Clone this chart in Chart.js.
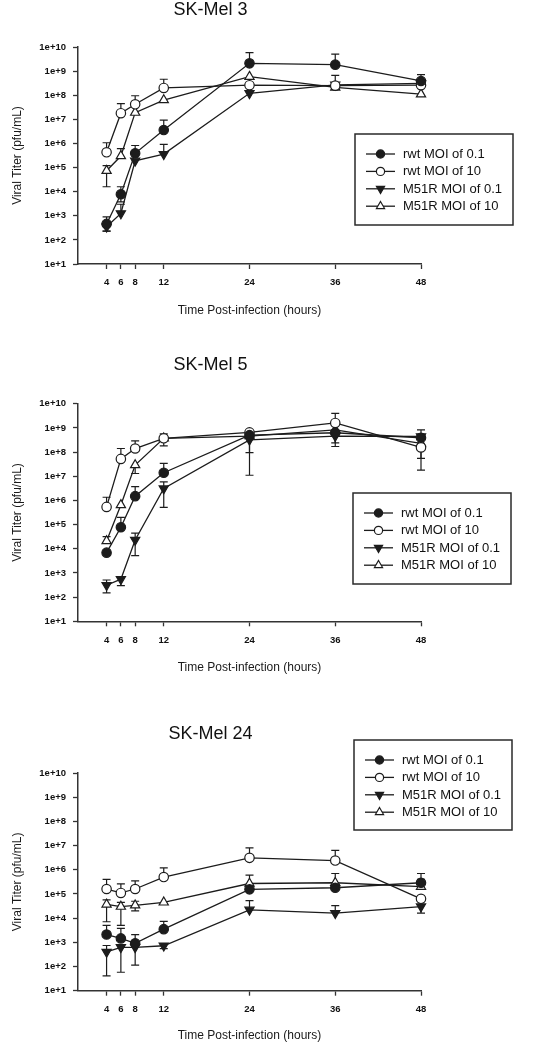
<!DOCTYPE html>
<html>
<head>
<meta charset="utf-8">
<script src="https://cdn.jsdelivr.net/npm/chart.js@4/dist/chart.umd.min.js"></script>
<style>
  html, body { margin: 0; padding: 0; background: #fff; }
  body { width: 541px; height: 1050px; position: relative; overflow: hidden; }
  canvas { position: absolute; left: 0; }
</style>
</head>
<body>
<canvas id="c1" width="541" height="330" style="top:0px"></canvas>
<canvas id="c2" width="541" height="360" style="top:330px"></canvas>
<canvas id="c3" width="541" height="360" style="top:690px"></canvas>
<script>
// ---------- data ----------
const hours = [4, 6, 8, 12, 24, 36, 48];
const xTickLabels = ['4', '6', '8', '12', '24', '36', '48'];
const yTickExponents = [1, 2, 3, 4, 5, 6, 7, 8, 9, 10];
const seriesNames = ['rwt MOI of 0.1', 'rwt MOI of 10', 'M51R MOI of 0.1', 'M51R MOI of 10'];
const panelTitles = ['SK-Mel 3', 'SK-Mel 5', 'SK-Mel 24'];
const xAxisTitle = 'Time Post-infection (hours)';
const yAxisTitle = 'Viral Titer (pfu/mL)';

// SK-Mel 3
const mel3Rwt01   = [460, 7.8e3, 3.9e5, 3.6e6, 2.1e9, 1.85e9, 3.9e8];
const mel3Rwt01Hi = [900, 1.6e4, 8.2e5, 9.3e6, 5.8e9, 5.1e9, 7.1e8];
const mel3Rwt01Lo = [230, 3.8e3, 3.9e5, 3.6e6, 2.1e9, 1.85e9, 3.9e8];
const mel3Rwt10   = [4.3e5, 1.8e7, 4.2e7, 2.0e8, 2.6e8, 2.5e8, 2.6e8];
const mel3Rwt10Hi = [1.07e6, 4.5e7, 9.5e7, 4.6e8, 2.6e8, 2.5e8, 2.6e8];
const mel3Rwt10Lo = [4.3e5, 1.8e7, 4.2e7, 2.0e8, 2.6e8, 2.5e8, 2.6e8];
const mel3M01     = [350, 1.25e3, 1.9e5, 3.6e5, 1.2e8, 2.7e8, 3.1e8];
const mel3M01Hi   = [350, 3.0e3, 1.9e5, 9.2e5, 1.2e8, 2.7e8, 3.1e8];
const mel3M01Lo   = [230, 1.25e3, 1.9e5, 3.6e5, 1.2e8, 2.7e8, 3.1e8];
const mel3M10     = [7.4e4, 3.0e5, 1.9e7, 6.3e7, 5.9e8, 2.1e8, 1.1e8];
const mel3M10Hi   = [1.2e5, 6.1e5, 1.9e7, 6.3e7, 5.9e8, 6.6e8, 1.1e8];
const mel3M10Lo   = [1.6e4, 3.0e5, 1.9e7, 6.3e7, 5.9e8, 2.1e8, 1.1e8];

// SK-Mel 5
const mel5Rwt01   = [6.9e3, 7.8e4, 1.5e6, 1.4e7, 5.0e8, 6.3e8, 3.9e8];
const mel5Rwt01Hi = [6.9e3, 2.0e5, 3.7e6, 3.4e7, 5.0e8, 6.3e8, 3.9e8];
const mel5Rwt01Lo = [6.9e3, 7.8e4, 1.5e6, 1.4e7, 5.0e8, 6.3e8, 3.9e8];
const mel5Rwt10   = [5.4e5, 5.2e7, 1.4e8, 3.7e8, 6.5e8, 1.6e9, 1.55e8];
const mel5Rwt10Hi = [1.35e6, 1.4e8, 2.9e8, 3.7e8, 6.5e8, 4.0e9, 1.55e8];
const mel5Rwt10Lo = [5.4e5, 5.2e7, 1.4e8, 3.7e8, 6.5e8, 1.6e9, 1.8e7];
const mel5M01     = [3.1e2, 5.5e2, 2.3e4, 3.1e6, 3.2e8, 4.6e8, 4.4e8];
const mel5M01Hi   = [5.1e2, 5.5e2, 4.4e4, 5.8e6, 3.2e8, 4.6e8, 8.2e8];
const mel5M01Lo   = [1.5e2, 3.0e2, 5.2e3, 5.2e5, 1.1e7, 1.7e8, 4.4e8];
const mel5M10     = [2.1e4, 6.5e5, 2.9e7, 3.7e8, 4.6e8, 8.2e8, 2.3e8];
const mel5M10Hi   = [3.2e4, 6.5e5, 2.9e7, 5.6e8, 4.6e8, 8.2e8, 2.3e8];
const mel5M10Lo   = [2.1e4, 6.5e5, 1.3e7, 1.8e8, 9.5e7, 2.4e8, 5.5e7];

// SK-Mel 24
const mel24Rwt01   = [2.1e3, 1.45e3, 9.1e2, 3.5e3, 1.55e5, 1.8e5, 2.9e5];
const mel24Rwt01Hi = [5.0e3, 3.8e3, 2.1e3, 7.4e3, 1.55e5, 1.8e5, 7.0e5];
const mel24Rwt01Lo = [2.1e3, 1.45e3, 9.1e2, 3.5e3, 1.55e5, 1.8e5, 2.9e5];
const mel24Rwt10   = [1.6e5, 1.1e5, 1.6e5, 5.0e5, 3.1e6, 2.4e6, 6.3e4];
const mel24Rwt10Hi = [4.0e5, 2.6e5, 3.5e5, 1.2e6, 8.1e6, 6.3e6, 6.3e4];
const mel24Rwt10Lo = [1.6e5, 1.1e5, 1.6e5, 5.0e5, 3.1e6, 2.4e6, 6.3e4];
const mel24M01     = [4.0e2, 6.2e2, 6.2e2, 7.2e2, 2.2e4, 1.6e4, 3.0e4];
const mel24M01Hi   = [7.4e2, 6.2e2, 6.2e2, 7.2e2, 5.3e4, 3.3e4, 3.0e4];
const mel24M01Lo   = [41, 58, 115, 5.5e2, 2.2e4, 1.6e4, 1.6e4];
const mel24M10     = [3.7e4, 3.0e4, 3.4e4, 4.5e4, 2.7e5, 2.9e5, 2.0e5];
const mel24M10Hi   = [5.7e4, 4.5e4, 5.0e4, 4.5e4, 6.0e5, 7.0e5, 4.0e5];
const mel24M10Lo   = [7.1e3, 5.0e3, 2.0e4, 4.5e4, 2.7e5, 2.9e5, 2.0e5];

// ---------- styling helpers ----------
const INK = '#1c1c1c';
const FONT = '"Liberation Sans", Arial, sans-serif';
const markerStyles = [
  { pointStyle: 'circle',   rotation: 0,   fill: INK,    radius: 4.7 },
  { pointStyle: 'circle',   rotation: 0,   fill: '#fff', radius: 4.7 },
  { pointStyle: 'triangle', rotation: 180, fill: INK,    radius: 5.3 },
  { pointStyle: 'triangle', rotation: 0,   fill: '#fff', radius: 5.3 }
];

function makeDatasets(vals, his, los) {
  return vals.map((v, i) => ({
    label: seriesNames[i],
    data: hours.map((h, k) => ({ x: h, y: v[k], hi: his[i][k], lo: los[i][k] })),
    borderColor: INK,
    borderWidth: 1.3,
    backgroundColor: markerStyles[i].fill,
    pointBackgroundColor: markerStyles[i].fill,
    pointBorderColor: INK,
    pointBorderWidth: 1.2,
    pointStyle: markerStyles[i].pointStyle,
    pointRotation: markerStyles[i].rotation,
    pointRadius: markerStyles[i].radius,
    tension: 0,
    fill: false,
    clip: false
  }));
}

const errorBarPlugin = {
  id: 'errorBars',
  beforeDatasetsDraw(chart) {
    const ctx = chart.ctx;
    const xs = chart.scales.x, ys = chart.scales.y;
    ctx.save();
    ctx.strokeStyle = INK;
    ctx.lineWidth = 1.2;
    chart.data.datasets.forEach(ds => {
      ds.data.forEach(p => {
        const px = xs.getPixelForValue(p.x);
        const py = ys.getPixelForValue(p.y);
        const cap = 4;
        [p.hi, p.lo].forEach(b => {
          if (b == null || b === p.y) return;
          const by = ys.getPixelForValue(b);
          ctx.beginPath();
          ctx.moveTo(px, py); ctx.lineTo(px, by);
          ctx.moveTo(px - cap, by); ctx.lineTo(px + cap, by);
          ctx.stroke();
        });
      });
    });
    ctx.restore();
  }
};

const boxLegendPlugin = {
  id: 'boxLegend',
  afterDraw(chart, args, opts) {
    const ctx = chart.ctx;
    const b = opts.box;
    ctx.save();
    ctx.fillStyle = '#fff';
    ctx.fillRect(b.x, b.y, b.w, b.h);
    ctx.strokeStyle = '#2a2a2a';
    ctx.lineWidth = 1.5;
    ctx.strokeRect(b.x, b.y, b.w, b.h);
    chart.data.datasets.forEach((ds, i) => {
      const y = b.y + 20 + i * 17.4;
      ctx.strokeStyle = INK;
      ctx.lineWidth = 1.3;
      ctx.beginPath();
      ctx.moveTo(b.x + 11, y); ctx.lineTo(b.x + 40, y);
      ctx.stroke();
      ctx.fillStyle = markerStyles[i].fill;
      ctx.strokeStyle = INK;
      ctx.lineWidth = 1.2;
      Chart.helpers.drawPoint(ctx, {
        pointStyle: markerStyles[i].pointStyle,
        rotation: markerStyles[i].rotation,
        radius: markerStyles[i].radius - 0.6,
        borderWidth: 1.2
      }, b.x + 25.5, y);
      ctx.fillStyle = '#111';
      ctx.font = '13px ' + FONT;
      ctx.textBaseline = 'middle';
      ctx.textAlign = 'left';
      ctx.fillText(ds.label, b.x + 48, y + 0.5);
    });
    ctx.restore();
  }
};

function makeChart(canvasId, title, datasets, geo) {
  const H = geo.H;
  return new Chart(document.getElementById(canvasId), {
    type: 'line',
    data: { datasets },
    plugins: [errorBarPlugin, boxLegendPlugin],
    options: {
      responsive: false,
      animation: false,
      devicePixelRatio: 1,
      layout: { padding: { top: 0, left: 0, right: 120, bottom: 0 } },
      plugins: {
        legend: { display: false },
        tooltip: { enabled: false },
        title: {
          display: true,
          text: title,
          color: '#111',
          font: { family: FONT, size: 18, weight: 'normal', lineHeight: 1 },
          padding: { top: geo.titleTop, bottom: geo.top - geo.titleTop - 18 },
          align: 'center'
        },
        boxLegend: { box: geo.legend }
      },
      scales: {
        x: {
          type: 'linear',
          min: 0,
          max: 48,
          afterBuildTicks(scale) { scale.ticks = hours.map(v => ({ value: v })); },
          afterFit(scale) { scale.height = H - geo.bottom; },
          ticks: {
            autoSkip: false,
            maxRotation: 0,
            padding: 8,
            color: '#111',
            font: { family: FONT, size: 9.5, weight: 'bold' },
            callback(v) { return xTickLabels[hours.indexOf(v)]; }
          },
          grid: { drawOnChartArea: false, drawTicks: true, tickLength: 5, tickWidth: 1.3, tickColor: '#333' },
          border: { display: true, color: '#333', width: 1.5 },
          title: {
            display: true,
            text: xAxisTitle,
            color: '#1a1a1a',
            font: { family: FONT, size: 12, weight: 'normal', lineHeight: 1.2 },
            padding: { top: 0, bottom: geo.xTitlePad }
          }
        },
        y: {
          type: 'logarithmic',
          min: 10,
          max: 1e10,
          afterBuildTicks(scale) { scale.ticks = yTickExponents.map(e => ({ value: Math.pow(10, e) })); },
          afterFit(scale) { scale.width = 78; },
          ticks: {
            autoSkip: false,
            padding: 7,
            color: '#111',
            font: { family: FONT, size: 9.5, weight: 'bold' },
            callback(v) { return '1e+' + Math.round(Math.log10(v)); }
          },
          grid: { drawOnChartArea: false, drawTicks: true, tickLength: 5, tickWidth: 1.3, tickColor: '#333' },
          border: { display: true, color: '#333', width: 1.5 },
          title: {
            display: true,
            text: yAxisTitle,
            color: '#1a1a1a',
            font: { family: FONT, size: 12, weight: 'normal', lineHeight: 1.2 },
            padding: { top: 10.5, bottom: 0 }
          }
        }
      }
    }
  });
}

makeChart('c1', panelTitles[0],
  makeDatasets([mel3Rwt01, mel3Rwt10, mel3M01, mel3M10],
               [mel3Rwt01Hi, mel3Rwt10Hi, mel3M01Hi, mel3M10Hi],
               [mel3Rwt01Lo, mel3Rwt10Lo, mel3M01Lo, mel3M10Lo]),
  { H: 330, top: 47, bottom: 264, titleTop: 1, xTitlePad: 11.8,
    legend: { x: 355, y: 134, w: 158, h: 91 } });

makeChart('c2', panelTitles[1],
  makeDatasets([mel5Rwt01, mel5Rwt10, mel5M01, mel5M10],
               [mel5Rwt01Hi, mel5Rwt10Hi, mel5M01Hi, mel5M10Hi],
               [mel5Rwt01Lo, mel5Rwt10Lo, mel5M01Lo, mel5M10Lo]),
  { H: 360, top: 73.7, bottom: 291.3, titleTop: 26, xTitlePad: 14.8,
    legend: { x: 353, y: 163, w: 158, h: 91 } });

makeChart('c3', panelTitles[2],
  makeDatasets([mel24Rwt01, mel24Rwt10, mel24M01, mel24M10],
               [mel24Rwt01Hi, mel24Rwt10Hi, mel24M01Hi, mel24M10Hi],
               [mel24Rwt01Lo, mel24Rwt10Lo, mel24M01Lo, mel24M10Lo]),
  { H: 360, top: 83, bottom: 300.7, titleTop: 35, xTitlePad: 6.8,
    legend: { x: 354, y: 50, w: 158, h: 90 } });
</script>
</body>
</html>
